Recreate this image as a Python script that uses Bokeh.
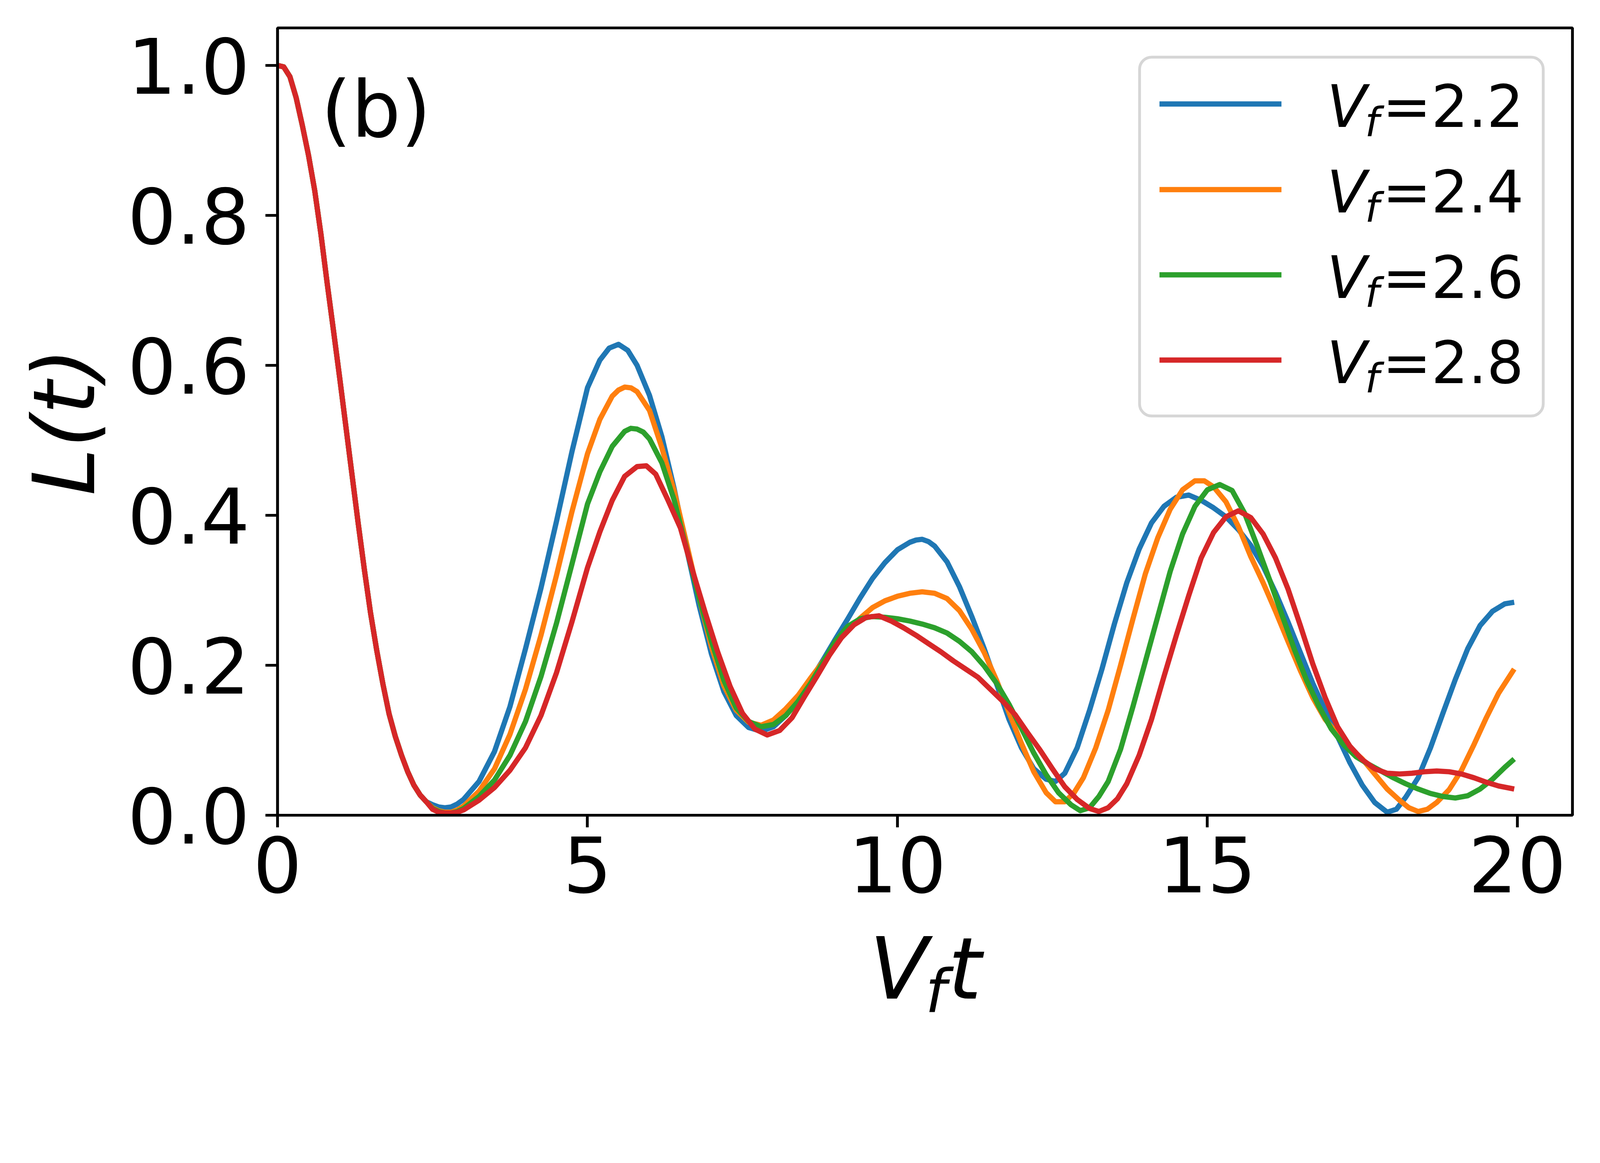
from bokeh.plotting import figure
from bokeh.layouts import column
from bokeh.models import Range1d, FixedTicker, NumeralTickFormatter, Label, BoxAnnotation
from bokeh.embed import file_html
from bokeh.resources import INLINE

# ---------------- data ----------------
t_common = [0.0, 0.1, 0.2, 0.3, 0.4, 0.5, 0.6, 0.7, 0.8, 0.9, 1.0, 1.1, 1.2, 1.3, 1.4,
            1.5, 1.6, 1.7, 1.8, 1.9, 2.0, 2.1, 2.2, 2.3, 2.4]
L_common = [1.0, 0.998, 0.985, 0.957, 0.92, 0.88, 0.833, 0.775, 0.71, 0.648, 0.585, 0.52,
            0.455, 0.39, 0.328, 0.27, 0.22, 0.175, 0.135, 0.105, 0.08, 0.058, 0.04, 0.027, 0.018]

t_22 = [2.5, 2.6, 2.7, 2.8, 2.9, 3.0, 3.25, 3.5, 3.75, 4.0, 4.25, 4.5, 4.75, 5.0, 5.2, 5.35,
        5.5, 5.65, 5.8, 6.0, 6.2, 6.4, 6.6, 6.8, 7.0, 7.2, 7.4, 7.6, 7.8, 8.0, 8.2, 8.4, 8.6,
        8.8, 9.0, 9.2, 9.4, 9.6, 9.8, 10.0, 10.2, 10.3, 10.4, 10.5, 10.6, 10.8, 11.0, 11.2,
        11.4, 11.6, 11.8, 12.0, 12.2, 12.4, 12.55, 12.7, 12.9, 13.1, 13.3, 13.5, 13.7, 13.9,
        14.1, 14.3, 14.5, 14.7, 14.9, 15.1, 15.3, 15.5, 15.7, 15.9, 16.1, 16.3, 16.5, 16.7,
        16.9, 17.1, 17.3, 17.5, 17.7, 17.9, 18.05, 18.2, 18.4, 18.6, 18.8, 19.0, 19.2, 19.4,
        19.6, 19.8, 19.95]
L_22 = [0.014, 0.011, 0.01, 0.011, 0.015, 0.021, 0.045, 0.085, 0.145, 0.222, 0.303, 0.392,
        0.485, 0.57, 0.607, 0.623, 0.628, 0.62, 0.6, 0.56, 0.505, 0.435, 0.355, 0.28, 0.215,
        0.165, 0.133, 0.117, 0.112, 0.118, 0.133, 0.155, 0.18, 0.207, 0.235, 0.262, 0.29,
        0.316, 0.337, 0.354, 0.364, 0.367, 0.368, 0.365, 0.359, 0.338, 0.305, 0.265, 0.222,
        0.175, 0.128, 0.09, 0.062, 0.048, 0.045, 0.056, 0.09, 0.14, 0.195, 0.255, 0.31, 0.355,
        0.39, 0.412, 0.424, 0.427, 0.42, 0.41, 0.398, 0.381, 0.36, 0.332, 0.297, 0.258, 0.217,
        0.176, 0.14, 0.105, 0.07, 0.04, 0.017, 0.004, 0.008, 0.024, 0.05, 0.09, 0.136, 0.181,
        0.222, 0.253, 0.272, 0.282, 0.284]

t_24 = [2.5, 2.6, 2.7, 2.8, 2.9, 3.0, 3.25, 3.5, 3.75, 4.0, 4.25, 4.5, 4.75, 5.0, 5.2, 5.4,
        5.5, 5.6, 5.7, 5.8, 6.0, 6.2, 6.4, 6.6, 6.8, 7.0, 7.2, 7.4, 7.6, 7.8, 8.0, 8.2, 8.4,
        8.6, 8.8, 9.0, 9.2, 9.4, 9.6, 9.8, 10.0, 10.2, 10.4, 10.6, 10.8, 11.0, 11.2, 11.4, 11.6,
        11.8, 12.0, 12.2, 12.4, 12.55, 12.7, 12.85, 13.0, 13.2, 13.4, 13.6, 13.8, 14.0, 14.2,
        14.4, 14.6, 14.8, 14.95, 15.1, 15.3, 15.5, 15.7, 15.9, 16.1, 16.3, 16.5, 16.7, 16.9,
        17.1, 17.3, 17.5, 17.7, 17.9, 18.1, 18.25, 18.4, 18.55, 18.7, 18.9, 19.1, 19.3, 19.5,
        19.7, 19.95]
L_24 = [0.01, 0.006, 0.004, 0.004, 0.007, 0.012, 0.032, 0.062, 0.108, 0.168, 0.24, 0.32,
        0.405, 0.482, 0.528, 0.559, 0.567, 0.571, 0.57, 0.565, 0.54, 0.49, 0.432, 0.362, 0.29,
        0.225, 0.173, 0.14, 0.124, 0.12, 0.127, 0.142, 0.16, 0.183, 0.205, 0.228, 0.247, 0.263,
        0.277, 0.286, 0.292, 0.296, 0.298, 0.296, 0.289, 0.273, 0.248, 0.217, 0.18, 0.137,
        0.096, 0.058, 0.03, 0.018, 0.018, 0.03, 0.05, 0.09, 0.14, 0.2, 0.262, 0.322, 0.37,
        0.408, 0.434, 0.446, 0.446, 0.438, 0.418, 0.385, 0.345, 0.31, 0.272, 0.232, 0.193,
        0.157, 0.128, 0.108, 0.09, 0.075, 0.055, 0.035, 0.02, 0.01, 0.005, 0.008, 0.017,
        0.034, 0.06, 0.094, 0.13, 0.163, 0.195]

t_26 = [2.5, 2.6, 2.7, 2.8, 2.9, 3.0, 3.25, 3.5, 3.75, 4.0, 4.25, 4.5, 4.75, 5.0, 5.2, 5.4,
        5.6, 5.7, 5.8, 5.9, 6.0, 6.2, 6.4, 6.6, 6.8, 7.0, 7.2, 7.4, 7.6, 7.8, 8.0, 8.2, 8.4,
        8.6, 8.8, 9.0, 9.2, 9.4, 9.6, 9.8, 10.0, 10.2, 10.4, 10.6, 10.8, 11.0, 11.2, 11.4, 11.6,
        11.8, 12.0, 12.2, 12.4, 12.6, 12.8, 12.95, 13.1, 13.25, 13.4, 13.6, 13.8, 14.0, 14.2,
        14.4, 14.6, 14.8, 15.0, 15.2, 15.4, 15.6, 15.8, 16.0, 16.2, 16.4, 16.6, 16.8, 17.0,
        17.2, 17.4, 17.6, 17.8, 18.0, 18.2, 18.4, 18.6, 18.8, 19.0, 19.2, 19.4, 19.6, 19.8, 19.95]
L_26 = [0.009, 0.005, 0.003, 0.003, 0.005, 0.009, 0.025, 0.047, 0.08, 0.125, 0.185, 0.256,
        0.335, 0.415, 0.458, 0.492, 0.512, 0.516, 0.515, 0.511, 0.502, 0.47, 0.42, 0.355,
        0.29, 0.232, 0.18, 0.143, 0.125, 0.118, 0.121, 0.133, 0.152, 0.176, 0.204, 0.232,
        0.252, 0.262, 0.265, 0.264, 0.262, 0.259, 0.255, 0.25, 0.243, 0.232, 0.218, 0.199,
        0.176, 0.148, 0.116, 0.083, 0.054, 0.03, 0.014, 0.006, 0.01, 0.025, 0.045, 0.088,
        0.145, 0.205, 0.265, 0.325, 0.375, 0.412, 0.434, 0.441, 0.433, 0.403, 0.36, 0.315,
        0.268, 0.222, 0.18, 0.145, 0.115, 0.094, 0.078, 0.068, 0.059, 0.05, 0.042, 0.035,
        0.029, 0.025, 0.023, 0.026, 0.035, 0.048, 0.064, 0.075]

t_28 = [2.5, 2.6, 2.7, 2.8, 2.9, 3.0, 3.25, 3.5, 3.75, 4.0, 4.25, 4.5, 4.75, 5.0, 5.2, 5.4,
        5.6, 5.8, 5.95, 6.1, 6.3, 6.5, 6.7, 6.9, 7.1, 7.3, 7.5, 7.7, 7.9, 8.1, 8.3, 8.5, 8.7,
        8.9, 9.1, 9.3, 9.5, 9.7, 9.9, 10.1, 10.3, 10.5, 10.7, 10.9, 11.1, 11.3, 11.5, 11.7,
        11.9, 12.1, 12.3, 12.5, 12.7, 12.9, 13.1, 13.25, 13.4, 13.55, 13.7, 13.9, 14.1, 14.3,
        14.5, 14.7, 14.9, 15.1, 15.3, 15.5, 15.7, 15.9, 16.1, 16.3, 16.5, 16.7, 16.9, 17.1,
        17.3, 17.5, 17.7, 17.9, 18.1, 18.3, 18.5, 18.7, 18.9, 19.1, 19.3, 19.5, 19.7, 19.95]
L_28 = [0.008, 0.004, 0.003, 0.003, 0.004, 0.007, 0.02, 0.037, 0.06, 0.09, 0.133, 0.19,
        0.258, 0.33, 0.378, 0.42, 0.452, 0.465, 0.466, 0.455, 0.42, 0.383, 0.325, 0.27,
        0.218, 0.172, 0.136, 0.115, 0.107, 0.113, 0.13, 0.158, 0.185, 0.213, 0.237, 0.254,
        0.264, 0.266, 0.259, 0.25, 0.24, 0.229, 0.218, 0.206, 0.195, 0.184, 0.168, 0.152,
        0.134, 0.11, 0.087, 0.062, 0.038, 0.021, 0.009, 0.005, 0.01, 0.022, 0.042, 0.08,
        0.128, 0.185, 0.24, 0.293, 0.343, 0.377, 0.398, 0.406, 0.397, 0.375, 0.343, 0.302,
        0.253, 0.202, 0.157, 0.118, 0.092, 0.074, 0.062, 0.056, 0.055, 0.056, 0.058, 0.059,
        0.058, 0.055, 0.05, 0.044, 0.039, 0.035]

labels = ["2.2", "2.4", "2.6", "2.8"]
colors = ["#1f77b4", "#ff7f0e", "#2ca02c", "#d62728"]
x_ticks = [0, 5, 10, 15, 20]
y_ticks = [0.0, 0.2, 0.4, 0.6, 0.8, 1.0]

series = [(t_common + t_22, L_common + L_22),
          (t_common + t_24, L_common + L_24),
          (t_common + t_26, L_common + L_26),
          (t_common + t_28, L_common + L_28)]

# ---------------- layout ----------------
S = 4096 / 4578            # page CSS px per reference pixel
W = 4090
H1, H2 = 2330, 325         # main figure, strip below holding the x label
BL, BR, BT = 710, 65, 71
FW, FH = 3315, 2016
BB = H1 - BT - FH
XMAX, YMAX = 20.89, 1.05
FONT = "DejaVu Sans"
SHIFT = 0.3  # baseline correction (fraction of font size)

def sz(v):
    return round(v * S, 1)

def fs(v):
    return "%dpx" % round(v * S)

def dx(P):  # reference px -> data x
    return (P * S - BL) / FW * XMAX

def dy(P, font=0.0):  # reference px (baseline) -> data y of main figure
    return (BT + FH - P * S + SHIFT * font * S) / FH * YMAX

def dy2(P, font=0.0):  # reference px (baseline) -> data y of lower strip
    return H2 - (P * S - H1) + SHIFT * font * S

p = figure(width=W, height=H1, output_backend="svg", toolbar_location=None,
           x_range=Range1d(0, XMAX), y_range=Range1d(0, YMAX),
           min_border_left=BL, min_border_right=W - BL - FW, min_border_top=BT, min_border_bottom=BB)
p.background_fill_color = "white"
p.border_fill_color = "white"
p.outline_line_color = "black"
p.outline_line_width = sz(8)
p.xgrid.visible = False
p.ygrid.visible = False

for ax in (p.xaxis[0], p.yaxis[0]):
    ax.axis_line_width = sz(8)
    ax.axis_line_color = "black"
    ax.major_tick_line_width = sz(8)
    ax.major_tick_line_color = "black"
    ax.major_tick_out = 31
    ax.major_tick_in = 0
    ax.minor_tick_line_color = None
    ax.major_label_text_font = FONT
    ax.major_label_text_font_size = fs(220)
    ax.major_label_text_color = "black"

p.xaxis.ticker = FixedTicker(ticks=x_ticks)
p.yaxis.ticker = FixedTicker(ticks=y_ticks)
p.yaxis.formatter = NumeralTickFormatter(format="0.0")
p.xaxis.major_label_standoff = 22
p.yaxis.major_label_standoff = 40

p.yaxis.axis_label = "L(t)"
p.yaxis.axis_label_text_font = FONT
p.yaxis.axis_label_text_font_size = fs(245)
p.yaxis.axis_label_text_font_style = "italic"
p.yaxis.axis_label_text_color = "black"
p.yaxis.axis_label_standoff = 30

for (tt, LL), c in zip(series, colors):
    p.line(tt, LL, line_color=c, line_width=sz(15), line_join="round")

# panel label
p.add_layout(Label(x=dx(918), y=dy(380, 222), text="(b)", text_font=FONT, text_font_size=fs(222),
                   text_baseline="alphabetic", text_align="left", text_color="black"))

# legend
p.add_layout(BoxAnnotation(left=dx(3260), right=dx(4415), top=dy(163), bottom=dy(1190),
                           fill_color="white", fill_alpha=0.8, line_color="#cccccc",
                           line_alpha=0.8, line_width=sz(8), border_radius=31))
handle_y = [297, 542, 786, 1030]
for lab, c, hy in zip(labels, colors, handle_y):
    p.segment(x0=[dx(3317)], x1=[dx(3666)], y0=[dy(hy)], y1=[dy(hy)], line_color=c,
              line_width=sz(15), level="overlay")
    yb = hy + 58
    p.add_layout(Label(x=dx(3796), y=dy(yb, 166), text="V", text_font=FONT, text_font_size=fs(166),
                       text_font_style="italic", text_baseline="alphabetic", text_color="black"))
    p.add_layout(Label(x=dx(3905), y=dy(yb + 29, 116), text="f", text_font=FONT,
                       text_font_size=fs(116), text_font_style="italic",
                       text_baseline="alphabetic", text_color="black"))
    p.add_layout(Label(x=dx(3955), y=dy(yb, 166), text="=" + lab, text_font=FONT,
                       text_font_size=fs(166), text_baseline="alphabetic", text_color="black"))

# strip below the main figure carrying the x-axis label  V_f t
q = figure(width=W, height=H2, output_backend="svg", toolbar_location=None,
           x_range=p.x_range, y_range=Range1d(0, H2),
           min_border_left=BL, min_border_right=W - BL - FW, min_border_top=0, min_border_bottom=0)
q.axis.visible = False
q.grid.visible = False
q.outline_line_color = None
q.background_fill_color = "white"
q.border_fill_color = "white"
for txt, P, Q, size in [("V", 2487, 2847, 245), ("f", 2647, 2888, 171), ("t", 2712, 2847, 245)]:
    q.add_layout(Label(x=dx(P), y=dy2(Q, size), text=txt, text_font=FONT, text_font_size=fs(size),
                       text_font_style="italic", text_baseline="alphabetic", text_align="left",
                       text_color="black"))

layout = column(p, q, spacing=0)
open("out.html", "w").write(file_html(layout, INLINE))
